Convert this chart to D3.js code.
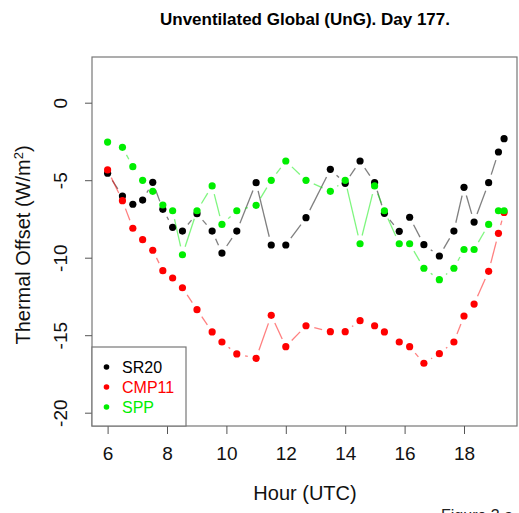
<!DOCTYPE html>
<html>
<head>
<meta charset="utf-8">
<script src="https://cdn.jsdelivr.net/npm/d3@7"></script>
<style>
  html, body { margin: 0; padding: 0; background: #fff; overflow: hidden; }
  svg { display: block; font-family: "Liberation Sans", Arial, Helvetica, sans-serif; }
</style>
</head>
<body>
<div id="chart"></div>
<script>
// hour of each observation (UTC)
const hours = [6.0, 6.5, 6.85, 7.18, 7.52, 7.86, 8.19, 8.52, 9.01, 9.52, 9.85, 10.35,
    11.0, 11.51, 12.0, 12.68, 13.5, 14.0, 14.5, 14.99, 15.32, 15.82, 16.17, 16.65,
    17.17, 17.66, 18.0, 18.34, 18.83, 19.16, 19.35];

const sr20 = [-4.55, -6.02, -6.55, -6.28, -5.14, -6.88, -8.04, -8.28, -7.16, -8.28, -9.70, -8.28,
    -5.16, -9.18, -9.18, -7.42, -4.30, -5.20, -3.76, -5.16, -7.14, -8.30, -7.39, -9.16,
    -9.89, -8.28, -5.46, -7.70, -5.16, -3.18, -2.32];

const cmp11 = [-4.34, -6.32, -8.10, -8.84, -9.52, -10.84, -11.31, -11.94, -13.35, -14.79, -15.44, -16.21,
    -16.49, -13.72, -15.74, -14.39, -14.77, -14.77, -14.06, -14.39, -14.79, -15.44, -15.74, -16.81,
    -16.19, -15.44, -13.76, -12.99, -10.88, -8.43, -7.08];

const spp = [-2.54, -2.88, -4.13, -5.01, -5.72, -6.60, -6.97, -9.81, -6.97, -5.37, -7.85, -6.97,
    -6.62, -5.01, -3.76, -5.01, -5.72, -5.01, -9.10, -5.37, -6.97, -9.10, -9.10, -10.68,
    -11.42, -10.68, -9.47, -9.47, -7.85, -6.97, -6.97];

const xTicks = [6, 8, 10, 12, 14, 16, 18];
const yTicks = [0, -5, -10, -15, -20];

const seriesNames = ['SR20', 'CMP11', 'SPP'];
const seriesColors = ['#000000', '#ff0000', '#00ee00'];
const seriesValues = [sr20, cmp11, spp];

const W = 519, H = 513;
const box = { left: 92, right: 517, top: 57, bottom: 426 };

const svg = d3.select('#chart').append('svg')
    .attr('width', W)
    .attr('height', H);

const x = d3.scaleLinear().domain([6, 18]).range([107.6, 464]);
const y = d3.scaleLinear().domain([-20, 0]).range([412.7, 102.7]);

// plot frame
svg.append('rect')
    .attr('x', box.left).attr('y', box.top)
    .attr('width', box.right - box.left).attr('height', box.bottom - box.top)
    .attr('fill', 'none').attr('stroke', '#777').attr('stroke-width', 1.2);

// axes (R style: ticks outside, y labels rotated)
const xAxis = d3.axisBottom(x).tickValues(xTicks).tickSize(8).tickPadding(13).tickFormat(d3.format('d'));
const gx = svg.append('g').attr('transform', `translate(0,${box.bottom})`).call(xAxis);
gx.select('.domain').remove();
gx.selectAll('line').attr('stroke', '#555');
gx.selectAll('text').style('font-size', '19px').attr('fill', '#111').attr('dy', '0.71em');

const yAxis = d3.axisLeft(y).tickValues(yTicks).tickSize(7).tickFormat(d => d);
const gy = svg.append('g').attr('transform', `translate(${box.left},0)`).call(yAxis);
gy.select('.domain').remove();
gy.selectAll('line').attr('stroke', '#555');
gy.selectAll('text')
    .style('font-size', '19px').attr('fill', '#111')
    .attr('x', null).attr('dy', null)
    .attr('text-anchor', 'middle')
    .attr('transform', 'translate(-25,0) rotate(-90)');

// titles
svg.append('text')
    .attr('x', 305).attr('y', 25)
    .attr('text-anchor', 'middle')
    .style('font-size', '17px').style('font-weight', 'bold')
    .text('Unventilated Global (UnG). Day 177.');

svg.append('text')
    .attr('x', 305).attr('y', 500)
    .attr('text-anchor', 'middle')
    .style('font-size', '20px').attr('fill', '#111')
    .text('Hour (UTC)');

svg.append('text')
    .attr('transform', 'translate(30,245) rotate(-90)')
    .attr('text-anchor', 'middle')
    .style('font-size', '20px').attr('fill', '#111')
    .html('Thermal Offset (W/m<tspan dy="-7" font-size="13px">2</tspan><tspan dy="7">)</tspan>');

svg.append('text')
    .attr('x', 441).attr('y', 521)
    .style('font-size', '16px').attr('fill', '#222')
    .text('Figure 3 a');

// series: R type="b" -> points joined by segments that stop short of each point
const gap = 8.5;
seriesValues.forEach((vals, si) => {
    const g = svg.append('g');
    const pts = hours.map((h, i) => [x(h), y(vals[i])]);
    for (let i = 0; i < pts.length - 1; i++) {
        const [x0, y0] = pts[i];
        const [x1, y1] = pts[i + 1];
        const len = Math.hypot(x1 - x0, y1 - y0);
        if (len <= 2 * gap + 1) continue;
        const ux = (x1 - x0) / len, uy = (y1 - y0) / len;
        g.append('line')
            .attr('x1', x0 + ux * gap).attr('y1', y0 + uy * gap)
            .attr('x2', x1 - ux * gap).attr('y2', y1 - uy * gap)
            .attr('stroke', seriesColors[si])
            .attr('stroke-opacity', 0.5)
            .attr('stroke-width', 1.3);
    }
    g.selectAll('circle')
        .data(pts)
        .enter().append('circle')
        .attr('cx', d => d[0]).attr('cy', d => d[1])
        .attr('r', 3.6)
        .attr('fill', seriesColors[si]);
});

// legend
const legendG = svg.append('g');
legendG.append('rect')
    .attr('x', box.left).attr('y', 347)
    .attr('width', 186 - box.left).attr('height', box.bottom - 347)
    .attr('fill', '#fff').attr('stroke', '#777').attr('stroke-width', 1.2);
seriesNames.forEach((name, i) => {
    const ly = 367 + i * 20;
    legendG.append('circle')
        .attr('cx', 106.5).attr('cy', ly).attr('r', 2.8)
        .attr('fill', seriesColors[i]);
    legendG.append('text')
        .attr('x', 122).attr('y', ly + 6)
        .style('font-size', '16px')
        .attr('fill', seriesColors[i])
        .text(name);
});
</script>
</body>
</html>
